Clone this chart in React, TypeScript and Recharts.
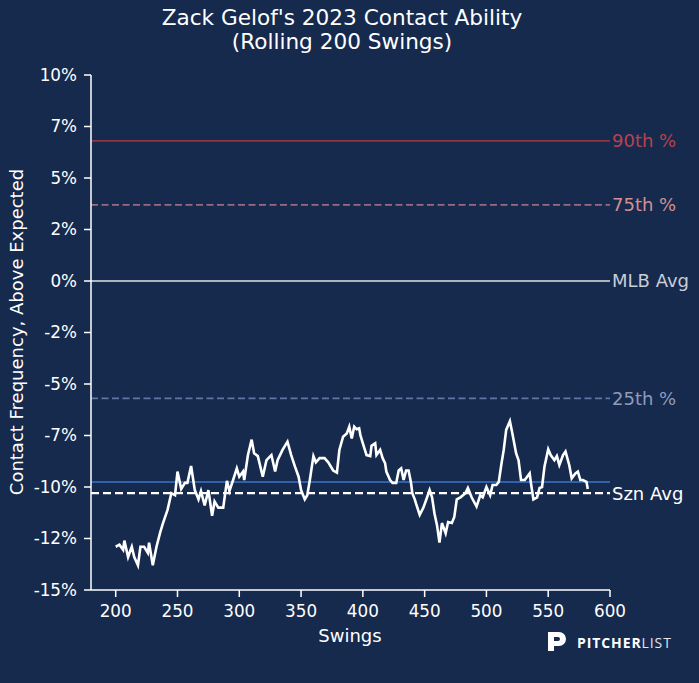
import { LineChart, Line, XAxis, YAxis, ReferenceLine } from "recharts";

// rolling 200-swing contact rate above expected, in percent
const swings = [
  200, 203, 206, 207, 210, 213, 215, 218, 220, 223, 226, 227, 230, 233, 236, 238, 242, 245, 248, 250,
  253, 256, 258, 261, 264, 267, 269, 272, 275, 278, 280, 283, 287, 290, 292, 295, 298, 300, 303, 304,
  307, 310, 312, 315, 319, 322, 326, 329, 331, 335, 339, 342, 345, 348, 350, 353, 355, 357, 360, 362,
  365, 369, 372, 376, 379, 381, 384, 387, 389, 391, 393, 395, 397, 398, 400, 403, 406, 407, 410, 411,
  414, 416, 418, 419, 422, 424, 427, 429, 431, 433, 435, 437, 439, 440, 442, 443, 446, 449, 452, 454,
  456, 458, 460, 462, 464, 467, 469, 472, 474, 476, 479, 483, 485, 488, 492, 495, 497, 500, 503, 505,
  508, 510, 512, 514, 516, 519, 521, 524, 526, 528, 531, 535, 536, 538, 541, 543, 545, 547, 550, 552,
  555, 557, 559, 562, 564, 567, 569, 572, 574, 576, 578, 581, 582,
];
const contact = [
  -12.9, -12.8, -13.05, -12.6, -13.4, -12.9, -13.4, -13.8, -12.9, -12.9, -13.2, -12.7, -13.8, -12.9, -12.2, -11.8, -11.1, -10.3, -10.4, -9.25,
  -10.1, -9.8, -9.8, -8.98, -10.15, -10.6, -10.2, -10.9, -10.15, -11.4, -10.7, -11.0, -11.0, -9.7, -10.2, -9.66, -9.1, -9.5, -9.25, -9.66,
  -8.45, -7.7, -8.36, -8.5, -9.5, -8.7, -8.45, -9.25, -8.7, -8.2, -7.8, -8.45, -9.0, -9.5, -10.15, -10.6, -10.4, -9.7, -8.5, -8.8,
  -8.6, -8.6, -8.8, -9.2, -9.3, -8.2, -7.56, -7.4, -7.07, -7.64, -7.07, -7.2, -7.15, -7.48, -7.88, -8.45, -8.5, -8.0, -7.88, -8.45,
  -8.2, -8.6, -8.85, -9.25, -9.66, -9.8, -9.8, -9.2, -9.1, -9.66, -9.2, -9.2, -9.8, -10.3, -10.6, -10.8, -11.35, -11.0, -10.5, -10.15,
  -10.5, -11.3, -11.85, -12.7, -11.75, -12.25, -11.7, -11.75, -11.45, -10.6, -10.5, -10.3, -10.05, -10.5, -10.95, -10.4, -10.5, -10.0, -10.4, -9.9,
  -9.9, -9.75, -8.93, -8.2, -7.23, -6.8, -7.4, -8.36, -8.7, -9.66, -9.66, -9.34, -9.8, -10.6, -10.5, -10.05, -10.0, -9.0, -8.17, -8.45,
  -8.7, -8.5, -8.93, -8.45, -8.28, -8.93, -9.58, -9.34, -9.25, -9.66, -9.66, -9.75, -10.1,
];

const xTicks = [200, 250, 300, 350, 400, 450, 500, 550, 600];
const yTicks = [-15, -12.5, -10, -7.5, -5, -2.5, 0, 2.5, 5, 7.5, 10];

const pct90 = 6.8;
const pct75 = 3.7;
const mlbAvg = 0;
const pct25 = -5.7;
const recent = -9.76;
const sznAvg = -10.3;

const BG = "#162a4e";
const FONT = "'DejaVu Sans', sans-serif";

const data = swings.map((s, i) => ({ swing: s, contact: contact[i] }));

export default function App() {
  const tick = { fill: "#ffffff", fontSize: 16.8 };
  return (
    <div
      style={{
        position: "absolute",
        left: 0,
        top: 0,
        width: 699,
        height: 683,
        background: BG,
        fontFamily: FONT,
      }}
    >
      <LineChart width={699} height={683} data={data} margin={{ top: 75, right: 89, bottom: 43, left: 0 }}>
        <XAxis
          dataKey="swing"
          type="number"
          domain={[180, 600]}
          ticks={xTicks}
          interval={0}
          height={50}
          tick={tick}
          tickSize={7}
          tickMargin={8}
          axisLine={{ stroke: "#ffffff", strokeWidth: 1.5 }}
          tickLine={{ stroke: "#ffffff", strokeWidth: 1.5 }}
        />
        <YAxis
          type="number"
          domain={[-15, 10]}
          ticks={yTicks}
          interval={0}
          width={91}
          tick={tick}
          tickSize={7}
          tickMargin={7}
          tickFormatter={(v: number) => `${Math.trunc(v) || 0}%`}
          axisLine={{ stroke: "#ffffff", strokeWidth: 1.5 }}
          tickLine={{ stroke: "#ffffff", strokeWidth: 1.5 }}
        />
        <ReferenceLine
          y={pct90}
          stroke="#8e3443"
          strokeWidth={1.8}
          label={{ value: "90th %", position: "right", offset: 2, fill: "#b8424d", fontSize: 18 }}
        />
        <ReferenceLine
          y={pct75}
          stroke="#9a6b80"
          strokeWidth={1.8}
          strokeDasharray="7 3.5"
          label={{ value: "75th %", position: "right", offset: 2, fill: "#d48f92", fontSize: 18 }}
        />
        <ReferenceLine
          y={mlbAvg}
          stroke="#aeb3be"
          strokeWidth={1.8}
          label={{ value: "MLB Avg", position: "right", offset: 2, fill: "#c9cdd6", fontSize: 18 }}
        />
        <ReferenceLine
          y={pct25}
          stroke="#5f76a2"
          strokeWidth={1.8}
          strokeDasharray="7 3.5"
          label={{ value: "25th %", position: "right", offset: 2, fill: "#8f9bb9", fontSize: 18 }}
        />
        <ReferenceLine y={recent} stroke="#2f62ad" strokeWidth={2} />
        <ReferenceLine
          y={sznAvg}
          stroke="#ffffff"
          strokeWidth={2.2}
          strokeDasharray="8 4"
          label={{ value: "Szn Avg", position: "right", offset: 2, fill: "#ffffff", fontSize: 18 }}
        />
        <Line
          dataKey="contact"
          type="linear"
          stroke="#ffffff"
          strokeWidth={2.6}
          dot={false}
          activeDot={false}
          isAnimationActive={false}
        />
      </LineChart>
      <svg
        width={699}
        height={683}
        style={{ position: "absolute", left: 0, top: 0, pointerEvents: "none" }}
      >
        <text x={342} y={25} textAnchor="middle" fill="#ffffff" fontSize={21.6}>
          Zack Gelof's 2023 Contact Ability
        </text>
        <text x={342} y={49} textAnchor="middle" fill="#ffffff" fontSize={21.6}>
          (Rolling 200 Swings)
        </text>
        <text x={350} y={642} textAnchor="middle" fill="#ffffff" fontSize={18}>
          Swings
        </text>
        <text
          x={0}
          y={0}
          transform="translate(23 332) rotate(-90)"
          textAnchor="middle"
          fill="#ffffff"
          fontSize={18}
        >
          Contact Frequency, Above Expected
        </text>
        <path
          d="M548 632 H559 A7 7 0 0 1 559 646 H554 V651 H548 Z M554 637 V641 H558 A2 2 0 0 0 558 637 Z"
          fill="#ffffff"
          fillRule="evenodd"
        />
        <text x={577} y={648} fill="#ffffff" fontSize={14} fontFamily="'Open Sans', sans-serif" letterSpacing={0.9}>
          <tspan fontWeight={700}>PITCHER</tspan>
          <tspan fontWeight={400} fill="#e4e6ec">LIST</tspan>
        </text>
      </svg>
    </div>
  );
}
